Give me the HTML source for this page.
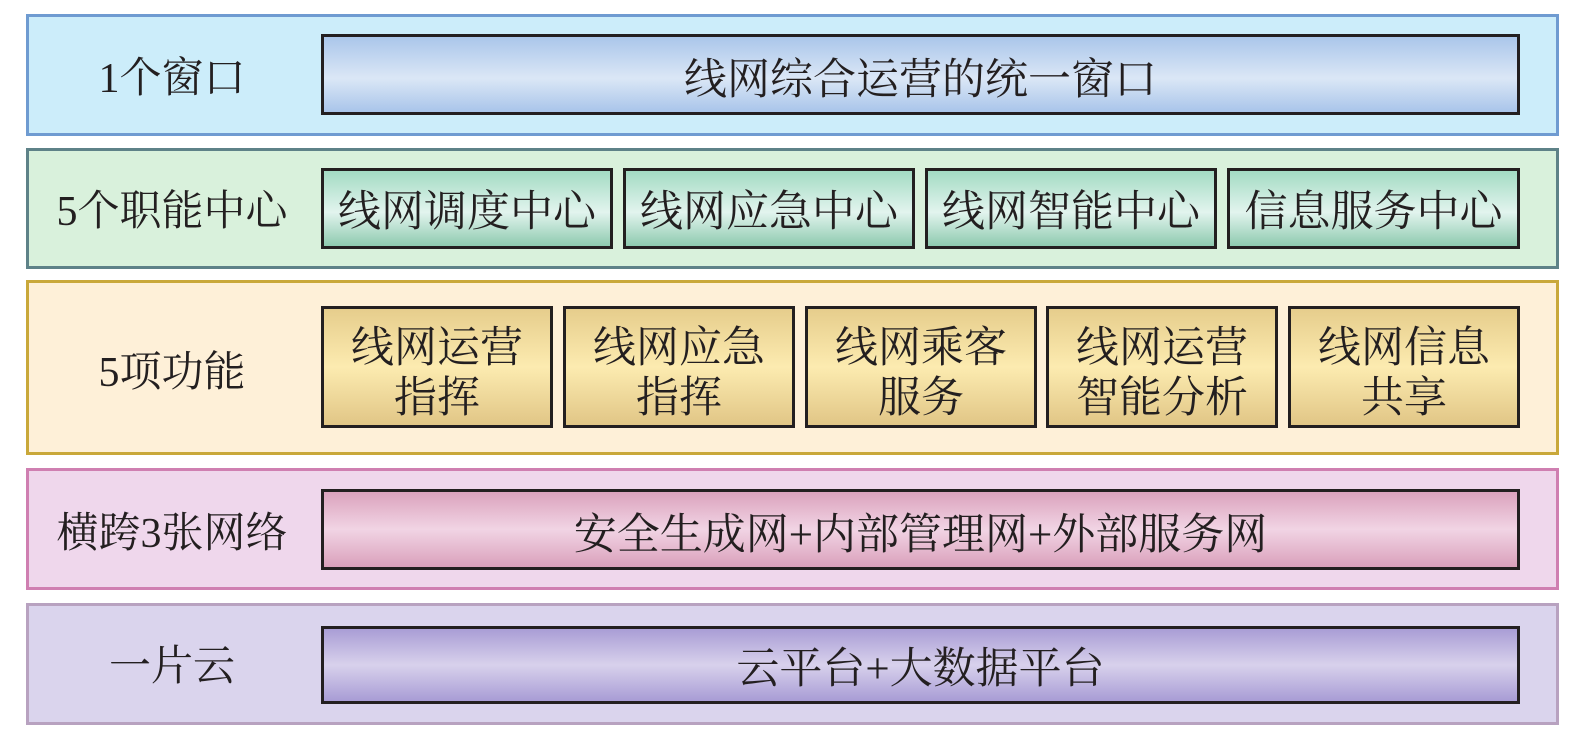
<!DOCTYPE html>
<html>
<head>
<meta charset="utf-8">
<style>
  html,body{margin:0;padding:0;background:#fff;}
  body{width:1575px;height:747px;position:relative;overflow:hidden;
    font-family:"Liberation Serif","Noto Serif CJK SC",serif;color:#231f20;}
  .panel{position:absolute;left:26px;width:1533px;box-sizing:border-box;border:3px solid;}
  .lbl{position:absolute;left:29px;width:286px;text-align:center;font-size:42px;white-space:nowrap;}
  .box{position:absolute;box-sizing:border-box;border:3px solid #231f20;text-align:center;font-size:43px;white-space:nowrap;display:flex;align-items:center;justify-content:center;}
  .two{line-height:50px;padding-top:14px;}
  .b1{background:linear-gradient(to bottom,#aac6ea 0%,#dbe7f6 55%,#a9c5ea 100%);}
  .b2{background:linear-gradient(to bottom,#a3dbc3 0%,#e2f4ee 55%,#8ecaaf 100%);}
  .b3{background:linear-gradient(to bottom,#e6cd8c 0%,#fcebb0 50%,#e1c686 100%);}
  .b4{background:linear-gradient(to bottom,#dba2bd 0%,#f1d4e4 50%,#daa0bb 100%);}
  .b5{background:linear-gradient(to bottom,#a99dd5 0%,#d8d1ec 50%,#a89cd5 100%);}
</style>
</head>
<body>
  <!-- Panel 1 -->
  <div class="panel" style="top:14px;height:122px;background:#ccedfa;border-color:#6f9bd1;"></div>
  <div class="lbl" style="top:55px;line-height:48px;">1个窗口</div>
  <div class="box b1" style="left:321px;top:34px;width:1199px;height:81px;padding-top:3px;">线网综合运营的统一窗口</div>

  <!-- Panel 2 -->
  <div class="panel" style="top:148px;height:121px;background:#d9f1dc;border-color:#5e8288;"></div>
  <div class="lbl" style="top:188px;line-height:48px;">5个职能中心</div>
  <div class="box b2" style="left:321px;top:168px;width:292px;height:81px;">线网调度中心</div>
  <div class="box b2" style="left:623px;top:168px;width:292px;height:81px;">线网应急中心</div>
  <div class="box b2" style="left:925px;top:168px;width:292px;height:81px;">线网智能中心</div>
  <div class="box b2" style="left:1227px;top:168px;width:293px;height:81px;">信息服务中心</div>

  <!-- Panel 3 -->
  <div class="panel" style="top:280px;height:175px;background:#fef0d8;border-color:#c9a83a;"></div>
  <div class="lbl" style="top:349px;line-height:48px;">5项功能</div>
  <div class="box b3 two" style="left:321px;top:306px;width:232px;height:122px;">线网运营<br>指挥</div>
  <div class="box b3 two" style="left:563px;top:306px;width:232px;height:122px;">线网应急<br>指挥</div>
  <div class="box b3 two" style="left:805px;top:306px;width:232px;height:122px;">线网乘客<br>服务</div>
  <div class="box b3 two" style="left:1046px;top:306px;width:232px;height:122px;">线网运营<br>智能分析</div>
  <div class="box b3 two" style="left:1288px;top:306px;width:232px;height:122px;">线网信息<br>共享</div>

  <!-- Panel 4 -->
  <div class="panel" style="top:468px;height:122px;background:#efd7ec;border-color:#cf7fb1;"></div>
  <div class="lbl" style="top:510px;line-height:48px;">横跨3张网络</div>
  <div class="box b4" style="left:321px;top:489px;width:1199px;height:81px;padding-top:3px;">安全生成网+内部管理网+外部服务网</div>

  <!-- Panel 5 -->
  <div class="panel" style="top:603px;height:122px;background:#dad4ed;border-color:#b8a2c0;"></div>
  <div class="lbl" style="top:643px;line-height:48px;">一片云</div>
  <div class="box b5" style="left:321px;top:626px;width:1199px;height:78px;">云平台+大数据平台</div>
</body>
</html>
